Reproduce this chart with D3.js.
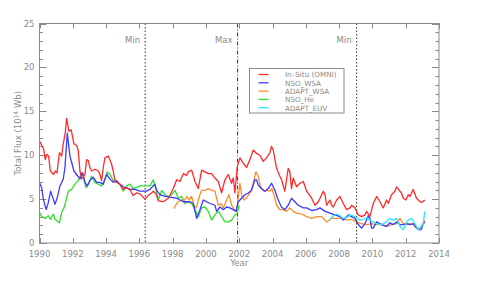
<!DOCTYPE html>
<html>
<head>
<meta charset="utf-8">
<script src="https://cdn.jsdelivr.net/npm/d3@7"></script>
<style>
  body { margin: 0; background: #fff; }
  text { font-family: "DejaVu Sans", sans-serif; fill: #8a8a8a; }
</style>
</head>
<body>
<div id="chart"></div>
<script>
// data: [year, flux]
var inSitu = [[1990,11.6],[1990.25,10.7],[1990.35,9.5],[1990.45,10.1],[1990.55,9.9],[1990.65,8.2],[1990.85,7.8],[1990.95,8.2],[1991.05,8.0],[1991.2,10.3],[1991.33,9.9],[1991.43,11.3],[1991.55,12.6],[1991.63,14.2],[1991.77,12.7],[1991.9,12.9],[1992.07,11.3],[1992.23,11.1],[1992.33,10.5],[1992.43,8.2],[1992.53,7.3],[1992.63,7.5],[1992.73,7.8],[1992.83,9.5],[1992.93,9.4],[1993.03,8.6],[1993.13,8.2],[1993.33,8.4],[1993.53,8.2],[1993.63,7.8],[1993.73,7.1],[1993.83,8.6],[1993.93,9.7],[1994.13,9.9],[1994.33,9.0],[1994.43,8.2],[1994.53,7.1],[1994.83,6.7],[1995.03,6.1],[1995.23,6.3],[1995.43,6.1],[1995.63,5.4],[1995.83,5.7],[1996.03,5.6],[1996.33,5.0],[1996.53,5.4],[1996.73,5.7],[1996.84,5.9],[1997.0,5.6],[1997.14,4.8],[1997.44,4.7],[1997.74,5.1],[1998.04,6.2],[1998.24,7.2],[1998.44,7.0],[1998.64,7.9],[1998.84,7.7],[1998.94,8.1],[1999.14,8.3],[1999.34,7.0],[1999.54,6.2],[1999.74,8.3],[1999.94,8.1],[2000.14,7.9],[2000.34,7.9],[2000.54,7.4],[2000.74,7.0],[2000.94,5.7],[2001.14,7.2],[2001.34,7.8],[2001.54,6.8],[2001.64,7.4],[2001.74,5.7],[2001.88,8.7],[2002.04,9.7],[2002.24,9.1],[2002.44,8.6],[2002.64,9.5],[2002.84,10.6],[2003.04,10.2],[2003.24,10.0],[2003.44,9.3],[2003.64,9.7],[2003.84,10.3],[2003.94,11.0],[2004.04,10.6],[2004.24,8.5],[2004.44,7.6],[2004.54,7.2],[2004.74,5.9],[2004.94,8.5],[2005.04,8.1],[2005.14,6.2],[2005.24,7.4],[2005.44,6.4],[2005.64,6.8],[2005.85,7.0],[2006.05,5.9],[2006.35,5.1],[2006.55,4.3],[2006.75,4.7],[2006.95,5.5],[2007.05,5.9],[2007.15,5.5],[2007.25,4.3],[2007.45,4.9],[2007.55,4.3],[2007.65,4.1],[2007.85,4.9],[2008.05,5.3],[2008.25,4.5],[2008.45,3.8],[2008.65,4.0],[2008.75,4.3],[2008.95,4.0],[2009.15,3.2],[2009.35,3.0],[2009.55,3.2],[2009.65,3.6],[2009.85,3.0],[2010.05,4.5],[2010.25,5.3],[2010.45,4.7],[2010.65,4.0],[2010.85,4.9],[2010.95,4.5],[2011.15,5.5],[2011.35,5.9],[2011.45,6.4],[2011.65,5.9],[2011.75,5.7],[2011.85,5.1],[2012.01,4.9],[2012.15,5.5],[2012.25,5.3],[2012.45,6.1],[2012.65,5.1],[2012.75,4.9],[2012.95,4.6],[2013.15,4.9]];

var nsoWsa = [[1990,6.9],[1990.13,6.3],[1990.23,5.0],[1990.4,3.8],[1990.53,4.6],[1990.67,5.9],[1990.79,5.2],[1990.93,4.4],[1991.07,5.2],[1991.23,6.5],[1991.43,7.3],[1991.53,8.6],[1991.67,12.5],[1991.83,9.9],[1991.93,9.2],[1992.07,8.2],[1992.23,7.8],[1992.43,7.3],[1992.59,8.0],[1992.73,6.9],[1992.87,6.5],[1993.03,7.1],[1993.23,7.5],[1993.43,6.9],[1993.63,6.9],[1993.83,6.7],[1994.03,7.8],[1994.23,7.3],[1994.43,6.9],[1994.63,7.1],[1994.83,6.7],[1995.13,6.3],[1995.43,6.1],[1995.73,6.1],[1996.03,5.9],[1996.43,5.9],[1996.63,6.1],[1996.93,6.7],[1997.04,6.0],[1997.24,5.5],[1997.54,5.3],[1998.24,5.1],[1998.64,4.7],[1999.04,4.7],[1999.24,4.5],[1999.44,2.8],[1999.64,3.8],[1999.84,4.9],[2000.04,4.7],[2000.24,4.5],[2000.54,4.3],[2000.64,3.6],[2000.84,4.1],[2001.04,3.8],[2001.24,4.1],[2001.44,4.0],[2001.64,3.8],[2001.8,3.6],[2001.94,4.7],[2002.14,5.1],[2002.34,5.5],[2002.54,5.7],[2002.74,6.0],[2002.94,7.2],[2003.04,7.2],[2003.14,6.6],[2003.34,6.2],[2003.54,5.9],[2003.74,6.2],[2003.94,6.8],[2004.14,6.0],[2004.34,4.9],[2004.54,4.1],[2004.74,3.8],[2004.94,4.3],[2005.14,5.1],[2005.34,4.7],[2005.54,4.3],[2005.85,4.0],[2006.05,4.0],[2006.35,3.7],[2006.65,3.8],[2006.85,4.0],[2007.15,3.6],[2007.45,3.4],[2007.75,3.2],[2008.05,3.0],[2008.25,2.6],[2008.55,3.2],[2008.75,3.0],[2008.95,2.8],[2009.15,2.1],[2009.35,1.7],[2009.55,2.2],[2009.75,3.1],[2009.85,2.8],[2009.95,1.7],[2010.05,1.7],[2010.25,2.4],[2010.55,2.1],[2010.85,1.9],[2011.05,2.3],[2011.25,2.1],[2011.45,2.4],[2011.65,2.1],[2011.85,2.1],[2012.05,2.2],[2012.25,2.1],[2012.45,2.2],[2012.65,1.7],[2012.85,1.5],[2012.95,1.6],[2013.05,2.2],[2013.15,2.4]];

var adaptWsa = [[1998.08,3.9],[1998.14,4.2],[1998.34,4.7],[1998.54,4.9],[1998.74,4.9],[1998.84,5.3],[1999.0,4.9],[1999.14,5.3],[1999.3,4.1],[1999.44,4.1],[1999.6,5.3],[1999.74,6.0],[1999.94,6.0],[2000.14,6.2],[2000.34,6.0],[2000.54,5.9],[2000.74,4.3],[2000.9,4.5],[2001.04,4.0],[2001.24,4.9],[2001.38,5.5],[2001.54,4.3],[2001.7,3.8],[2001.84,3.6],[2001.96,5.5],[2002.04,6.8],[2002.16,5.3],[2002.3,4.9],[2002.5,5.3],[2002.7,5.9],[2002.84,6.8],[2003.0,8.1],[2003.14,7.6],[2003.3,6.2],[2003.5,5.9],[2003.7,6.0],[2003.84,5.9],[2003.96,6.2],[2004.08,5.5],[2004.24,4.3],[2004.44,3.8],[2004.64,3.8],[2004.84,3.6],[2005.04,4.0],[2005.24,3.6],[2005.44,3.4],[2005.74,3.3],[2006.05,3.0],[2006.35,2.8],[2006.65,3.0],[2006.95,3.0],[2007.25,2.4],[2007.55,2.8],[2007.85,2.8],[2008.15,2.8],[2008.45,2.6],[2008.75,2.7],[2009.05,2.4],[2009.35,2.2],[2009.65,2.1],[2009.95,2.2],[2010.25,2.1],[2010.55,2.1],[2010.85,1.9],[2011.15,2.1],[2011.45,2.2],[2011.65,2.8],[2011.85,2.2],[2012.05,2.1],[2012.25,2.2],[2012.45,2.1],[2012.65,1.7],[2012.85,1.7],[2013.0,2.1],[2013.15,2.6]];

var nsoHe = [[1990,3.5],[1990.13,3.0],[1990.33,2.8],[1990.53,3.1],[1990.67,2.7],[1990.83,3.3],[1990.93,2.7],[1991.07,2.5],[1991.2,2.3],[1991.33,3.5],[1991.47,4.0],[1991.59,4.8],[1991.73,5.9],[1991.93,6.1],[1992.13,6.7],[1992.33,7.1],[1992.53,8.0],[1992.63,7.6],[1992.79,6.3],[1992.93,6.7],[1993.13,7.6],[1993.33,6.9],[1993.53,6.7],[1993.73,6.5],[1993.93,7.3],[1994.07,8.1],[1994.23,7.8],[1994.43,7.1],[1994.63,6.9],[1994.83,6.7],[1995.03,5.9],[1995.23,6.5],[1995.43,6.7],[1995.63,6.2],[1995.83,6.3],[1996.03,6.5],[1996.33,6.5],[1996.64,6.5],[1996.84,7.2],[1997.04,5.7],[1997.14,4.9],[1997.34,6.0],[1997.54,5.5],[1997.74,5.3],[1997.94,5.5],[1998.14,6.0],[1998.34,5.1],[1998.54,5.3],[1998.74,4.5],[1998.94,4.7],[1999.14,4.5],[1999.34,3.8],[1999.54,3.0],[1999.74,4.0],[1999.94,4.1],[2000.14,3.6],[2000.34,2.6],[2000.54,3.2],[2000.74,3.6],[2000.94,3.0],[2001.14,2.4],[2001.34,2.4],[2001.54,2.6],[2001.74,3.2],[2001.88,3.4],[2002.0,4.3]];

var adaptEuv = [[2007.45,2.7],[2007.65,3.1],[2007.85,3.3],[2008.05,3.1],[2008.25,2.8],[2008.45,2.9],[2008.65,3.2],[2008.85,3.1],[2009.05,2.9],[2009.25,2.6],[2009.45,2.7],[2009.65,2.9],[2009.85,2.6],[2010.05,2.4],[2010.25,2.2],[2010.45,2.1],[2010.65,2.2],[2010.85,2.4],[2011.05,2.8],[2011.25,2.6],[2011.45,2.8],[2011.65,1.9],[2011.85,1.5],[2012.01,2.2],[2012.15,2.6],[2012.35,2.8],[2012.55,2.2],[2012.75,1.5],[2012.95,1.9],[2013.05,2.2],[2013.15,3.6]];

var seriesNames = ["In\u2013Situ (OMNI)", "NSO_WSA", "ADAPT_WSA", "NSO_He", "ADAPT_EUV"];
var seriesData = [inSitu, nsoWsa, adaptWsa, nsoHe, adaptEuv];
var seriesColors = ["#ff2a2a", "#3a3aff", "#ff8c2a", "#2ee02e", "#2ee6ff"];

var cycleYears = [1996.35, 2001.9, 2009.05];
var cycleLabels = ["Min", "Max", "Min"];

var xTicks = d3.range(1990, 2015, 2);
var yMajor = [0, 5, 10, 15, 20, 25];
var yMinor = d3.range(0, 26, 1);

var WIDTH = 479, HEIGHT = 281;
var margin = {left: 39.5, right: 40, top: 23.5, bottom: 38};

var svg = d3.select("#chart").append("svg")
    .attr("width", WIDTH)
    .attr("height", HEIGHT);

var x = d3.scaleLinear().domain([1990, 2014]).range([margin.left, WIDTH - margin.right]);
var y = d3.scaleLinear().domain([0, 25]).range([HEIGHT - margin.bottom, margin.top]);

var axisColor = "#8a8a8a";

// ticks
var gTicks = svg.append("g").attr("stroke", axisColor).attr("stroke-width", 1);
xTicks.forEach(function (t) {
    var px = Math.round(x(t)) + 0.5;
    gTicks.append("line").attr("x1", px).attr("x2", px).attr("y1", y(0)).attr("y2", y(0) - 5);
    gTicks.append("line").attr("x1", px).attr("x2", px).attr("y1", y(25)).attr("y2", y(25) + 5);
});
yMinor.forEach(function (t) {
    var len = t % 5 == 0 ? 7 : 3.5;
    var py = Math.round(y(t)) + 0.5;
    gTicks.append("line").attr("x1", x(1990)).attr("x2", x(1990) + len).attr("y1", py).attr("y2", py);
    gTicks.append("line").attr("x1", x(2014)).attr("x2", x(2014) - len).attr("y1", py).attr("y2", py);
});

// tick labels
svg.append("g").selectAll("text").data(xTicks).join("text")
    .attr("x", function (d) { return x(d); })
    .attr("y", y(0) + 14)
    .attr("text-anchor", "middle")
    .attr("font-size", 8.5)
    .text(function (d) { return d; });
svg.append("g").selectAll("text").data(yMajor).join("text")
    .attr("x", x(1990) - 5)
    .attr("y", function (d) { return y(d) + 3; })
    .attr("text-anchor", "end")
    .attr("font-size", 8.5)
    .text(function (d) { return d; });

// cycle markers
cycleYears.forEach(function (yr, i) {
    svg.append("line")
        .attr("x1", x(yr)).attr("x2", x(yr))
        .attr("y1", y(25)).attr("y2", y(0))
        .attr("stroke", "#333")
        .attr("stroke-width", 1)
        .attr("stroke-dasharray", i == 1 ? "4,2,1,2" : "1.5,2");
    svg.append("text")
        .attr("x", x(yr) - 5)
        .attr("y", 43)
        .attr("text-anchor", "end")
        .attr("font-size", 8.5)
        .attr("fill", "#666")
        .text(cycleLabels[i]);
});

// series lines
var line = d3.line()
    .x(function (d) { return x(d[0]); })
    .y(function (d) { return y(d[1]); });

var order = [3, 2, 1, 4, 0];
order.forEach(function (k) {
    svg.append("path")
        .datum(seriesData[k])
        .attr("fill", "none")
        .attr("stroke", seriesColors[k])
        .attr("stroke-width", 1.3)
        .attr("stroke-linejoin", "round")
        .attr("d", line);
});

// frame
svg.append("rect")
    .attr("x", x(1990)).attr("y", y(25))
    .attr("width", x(2014) - x(1990)).attr("height", y(0) - y(25))
    .attr("fill", "none")
    .attr("stroke", axisColor)
    .attr("stroke-width", 1);

// legend
var legend = svg.append("g").attr("transform", "translate(249.5,68.5)");
legend.append("rect").attr("width", 94.5).attr("height", 44.5)
    .attr("fill", "#fff").attr("stroke", axisColor).attr("stroke-width", 1);
seriesNames.forEach(function (name, i) {
    var ly = 6 + i * 8.3;
    legend.append("line").attr("x1", 9).attr("x2", 19).attr("y1", ly).attr("y2", ly)
        .attr("stroke", seriesColors[i]).attr("stroke-width", 1.3);
    legend.append("text").attr("x", 35.5).attr("y", ly + 2.8)
        .attr("font-size", 7.2).text(name);
});

// axis titles
svg.append("text")
    .attr("x", x(2002)).attr("y", 266)
    .attr("text-anchor", "middle")
    .attr("font-size", 8.5)
    .text("Year");

var ylab = svg.append("text")
    .attr("transform", "translate(21," + ((y(0) + y(25)) / 2) + ") rotate(-90)")
    .attr("text-anchor", "middle")
    .attr("font-size", 8.5);
ylab.append("tspan").text("Total Flux (10");
ylab.append("tspan").attr("dy", -3).attr("font-size", 6).text("14");
ylab.append("tspan").attr("dy", 3).text(" Wb)");
</script>
</body>
</html>
